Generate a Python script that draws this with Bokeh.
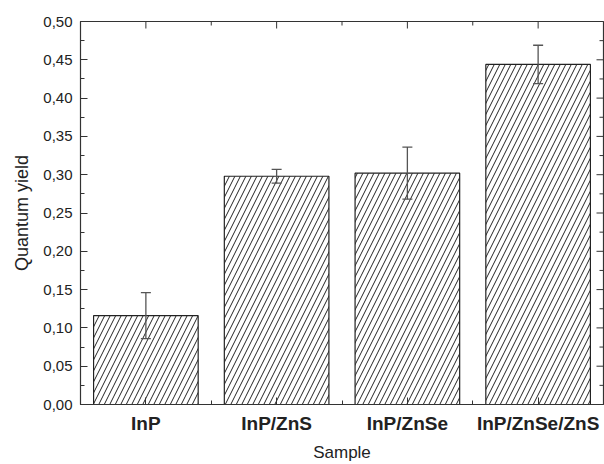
import math
from bokeh.plotting import figure
from bokeh.models import (Range1d, LinearAxis, FixedTicker, CustomJSTickFormatter,
                          ColumnDataSource, Whisker, TeeHead)
from bokeh.embed import file_html
from bokeh.resources import INLINE

# ---- data ----
categories = ["InP", "InP/ZnS", "InP/ZnSe", "InP/ZnSe/ZnS"]
quantum_yield = [0.116, 0.298, 0.302, 0.444]
yield_error = [0.030, 0.009, 0.034, 0.025]
y_ticks = [0.00, 0.05, 0.10, 0.15, 0.20, 0.25, 0.30, 0.35, 0.40, 0.45, 0.50]
y_minor_ticks = [0.025, 0.075, 0.125, 0.175, 0.225, 0.275, 0.325, 0.375, 0.425, 0.475]
x_title = "Sample"
y_title = "Quantum yield"

FONT = "Liberation Sans"
AX = "#333333"

xs = [i + 1 for i in range(len(categories))]
x_minor = [i + 1.5 for i in range(len(categories) - 1)]
x_lo, x_hi = 0.5, len(categories) + 0.5
y_lo, y_hi = y_ticks[0], y_ticks[-1]
src = ColumnDataSource(dict(
    x=xs, top=quantum_yield,
    upper=[v + e for v, e in zip(quantum_yield, yield_error)],
    lower=[v - e for v, e in zip(quantum_yield, yield_error)],
))

p = figure(width=604, height=464, output_backend="svg", toolbar_location=None,
           x_range=Range1d(x_lo, x_hi), y_range=Range1d(y_lo, y_hi),
           x_axis_location=None, y_axis_location=None,
           min_border_left=80, min_border_right=1, min_border_top=21, min_border_bottom=60)
p.grid.visible = False
p.outline_line_color = AX
p.outline_line_width = 1.2
p.background_fill_color = "white"
p.border_fill_color = "white"

p.vbar(x="x", top="top", width=0.8, bottom=0, source=src,
       fill_color="white", line_color="#222222", line_width=1.2,
       hatch_pattern="right_diagonal_line", hatch_color="#222222",
       hatch_scale=11, hatch_weight=1)

w = Whisker(base="x", upper="upper", lower="lower", source=src, level="overlay",
            line_color="#555555", line_width=1.3,
            upper_head=TeeHead(size=10, line_color="#555555", line_width=1.3),
            lower_head=TeeHead(size=10, line_color="#555555", line_width=1.3))
p.add_layout(w)

# inward ticks on the right and top frame edges (half of each dash is clipped by the frame)
p.scatter(x=[x_hi] * len(y_ticks), y=y_ticks, marker="dash", size=14, line_color=AX, line_width=1)
p.scatter(x=[x_hi] * len(y_minor_ticks), y=y_minor_ticks, marker="dash", size=8, line_color=AX, line_width=1)
p.scatter(x=xs, y=[y_hi] * len(xs), marker="dash", angle=math.pi / 2, size=14, line_color=AX, line_width=1)
p.scatter(x=x_minor, y=[y_hi] * len(x_minor), marker="dash", angle=math.pi / 2, size=8, line_color=AX, line_width=1)

def style(ax):
    ax.axis_line_color = AX
    ax.major_tick_line_color = AX
    ax.minor_tick_line_color = AX
    ax.major_tick_in = 7
    ax.major_tick_out = 0
    ax.minor_tick_in = 4
    ax.minor_tick_out = 0

xt = FixedTicker(ticks=xs, minor_ticks=x_minor)
yt = FixedTicker(ticks=y_ticks, minor_ticks=y_minor_ticks)
yfmt = CustomJSTickFormatter(code="return tick.toFixed(2).replace('.', ',');")

bottom = LinearAxis(ticker=xt, axis_label=x_title,
                    major_label_overrides={x: c for x, c in zip(xs, categories)})
style(bottom)
bottom.major_label_text_font = FONT
bottom.major_label_text_font_style = "bold"
bottom.major_label_text_font_size = "19px"
bottom.major_label_text_color = "#222222"
bottom.major_label_standoff = 8
bottom.axis_label_text_font = FONT
bottom.axis_label_text_font_style = "normal"
bottom.axis_label_text_font_size = "17px"
bottom.axis_label_text_color = "#222222"
bottom.axis_label_standoff = 6
p.add_layout(bottom, "below")

left = LinearAxis(ticker=yt, formatter=yfmt, axis_label=y_title)
style(left)
left.major_label_text_font = FONT
left.major_label_text_font_size = "15px"
left.major_label_text_color = "#222222"
left.major_label_standoff = 8
left.axis_label_text_font = FONT
left.axis_label_text_font_style = "normal"
left.axis_label_text_font_size = "18px"
left.axis_label_text_color = "#222222"
left.axis_label_standoff = 8
p.add_layout(left, "left")

open("out.html", "w").write(file_html(p, INLINE))
